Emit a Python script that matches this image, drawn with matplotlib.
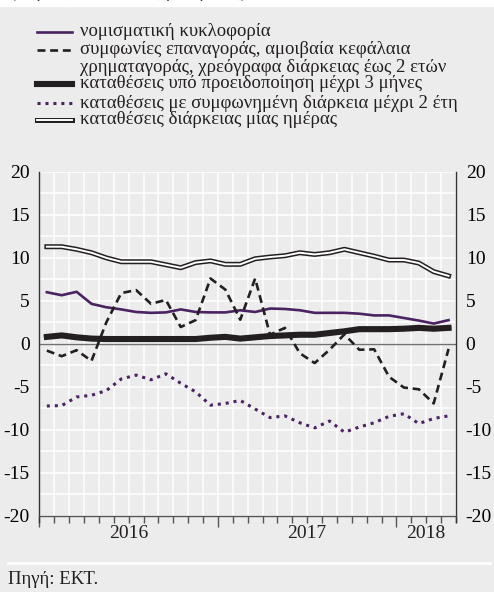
import numpy as np
import matplotlib as mpl
import matplotlib.pyplot as plt
from matplotlib.lines import Line2D

# monthly data, Jan 2016 - Apr 2018 (annual % changes)
months = np.arange(28)
currency = [6.0, 5.65, 6.05, 4.65, 4.25, 4.0, 3.7, 3.6, 3.65, 4.0, 3.7, 3.65, 3.65, 3.9,
            3.7, 4.1, 4.05, 3.9, 3.6, 3.6, 3.6, 3.5, 3.3, 3.3, 3.0, 2.7, 2.35, 2.75]
repos = [-0.8, -1.45, -0.75, -2.0, 2.5, 5.9, 6.25, 4.65, 5.1, 1.95, 2.75, 7.6, 6.3, 2.8,
         7.6, 1.05, 1.85, -1.1, -2.25, -0.7, 1.1, -0.7, -0.65, -3.85, -5.1, -5.3, -6.95, -0.6]
notice = [0.8, 0.97, 0.75, 0.6, 0.55, 0.55, 0.55, 0.55, 0.55, 0.55, 0.55, 0.7, 0.8, 0.6,
          0.75, 0.9, 0.97, 1.05, 1.05, 1.25, 1.45, 1.7, 1.7, 1.7, 1.75, 1.85, 1.75, 1.85]
agreed = [-7.25, -7.2, -6.2, -6.0, -5.45, -4.1, -3.65, -4.2, -3.5, -4.6, -5.6, -7.15, -6.95, -6.6,
          -7.6, -8.6, -8.4, -9.2, -9.8, -9.0, -10.3, -9.7, -9.2, -8.45, -8.15, -9.3, -8.7, -8.4]
overnight = [11.3, 11.3, 11.0, 10.6, 10.0, 9.55, 9.55, 9.55, 9.2, 8.85, 9.45, 9.65, 9.25, 9.25,
             9.9, 10.1, 10.25, 10.6, 10.4, 10.6, 11.0, 10.6, 10.2, 9.75, 9.75, 9.4, 8.4, 7.9]
years = ["2016", "2017", "2018"]
year_pos = [6, 18, 26]
labels = ["νομισματική κυκλοφορία",
          "συμφωνίες επαναγοράς, αμοιβαία κεφάλαια\nχρηματαγοράς, χρεόγραφα διάρκειας έως 2 ετών",
          "καταθέσεις υπό προειδοποίηση μέχρι 3 μήνες",
          "καταθέσεις με συμφωνημένη διάρκεια μέχρι 2 έτη",
          "καταθέσεις διάρκειας μίας ημέρας"]

mpl.rcParams.update({"font.family": ["Liberation Serif", "DejaVu Serif"], "font.size": 14})
BG = "#ececec"
PURPLE = "#4b2262"
INK = "#231f20"

fig = plt.figure(figsize=(4.94, 5.92), dpi=100, facecolor=BG)
fig.patches.append(plt.Rectangle((0, 1 - 6 / 592), 1, 6 / 592, transform=fig.transFigure,
                                 color="white", zorder=0))
# heading cut off at the top edge, as in the source
fig.text(0.02, 1 + 3 / 592, "(ετήσιες ποσοστιαίες μεταβολές)", color=PURPLE,
         fontsize=13, va="baseline")

ax = fig.add_axes([39.4 / 494, 1 - 515.5 / 592, (456 - 39.4) / 494, (515.5 - 172) / 592])
ax.set_facecolor(BG)
x = months + 0.5

ax.plot(x, overnight, color=INK, lw=3.6, solid_joinstyle="round", zorder=3)
ax.plot(x, overnight, color="white", lw=1.4, solid_joinstyle="round", zorder=3)
ax.plot(x, agreed, color=PURPLE, lw=2.2, ls=(0, (1, 1.6)), zorder=3)
ax.plot(x, notice, color=INK, lw=4.4, zorder=3)
ax.plot(x, currency, color=PURPLE, lw=1.9, zorder=3)
ax.plot(x, repos, color=INK, lw=1.9, ls=(0, (3, 1.8)), zorder=3)

ax.axhline(0, color="#707070", lw=1.0, zorder=2)
ax.set_xlim(0, 28)
ax.set_ylim(-20, 20)
ax.set_yticks(np.arange(-20, 21, 5))
ax.set_yticks(np.arange(-20, 21, 2.5), minor=True)
ax.set_yticklabels([str(v) for v in range(-20, 21, 5)])
ax.set_xticks(range(29), minor=True)
ax.set_xticks([0, 12, 24])
ax.set_xticklabels([])
ax.grid(True, which="both", color="white", lw=1.1, zorder=1)
ax.set_axisbelow(True)
ax.tick_params(axis="y", which="both", length=0, labelright=True, pad=7, labelsize=14)
ax.tick_params(axis="x", which="minor", direction="out", length=5, color="#555555", width=1)
ax.tick_params(axis="x", which="major", direction="out", length=8, color="#555555", width=1)
for s in ("left", "right"):
    ax.spines[s].set_color("#333333")
    ax.spines[s].set_linewidth(1.0)
    ax.spines[s].set_bounds(-20.8, 20)
ax.spines["top"].set_visible(False)
ax.spines["bottom"].set_color("#555555")
ax.spines["bottom"].set_linewidth(1.0)
for yr, p in zip(years, year_pos):
    ax.text(p, -22.1, yr, ha="center", va="center", fontsize=14, color=INK)

# legend drawn by hand
lx0, lx1, tx = 37 / 494, 72 / 494, 80 / 494
rows = [32, 50, 84, 103, 120]
styles = [dict(color=PURPLE, lw=1.9), dict(color=INK, lw=1.9, ls=(0, (3, 1.8))),
          dict(color=INK, lw=4.4), dict(color=PURPLE, lw=2.2, ls=(0, (1, 1.6))), None]
for r, st, lab in zip(rows, styles, labels):
    yy = 1 - r / 592
    if st is None:
        fig.add_artist(Line2D([lx0, lx1], [yy, yy], color=INK, lw=3.6, transform=fig.transFigure))
        fig.add_artist(Line2D([lx0, lx1], [yy, yy], color="white", lw=1.4, transform=fig.transFigure))
    else:
        fig.add_artist(Line2D([lx0, lx1], [yy, yy], transform=fig.transFigure, **st))
    for k, part in enumerate(lab.split("\n")):
        fig.text(tx, yy - k * 17 / 592, part, va="center", fontsize=13.5, color=INK)

fig.add_artist(Line2D([8 / 494, 490 / 494], [1 - 563 / 592] * 2, color="white", lw=2,
                      transform=fig.transFigure))
fig.text(8 / 494, 1 - 580 / 592, "Πηγή: ΕΚΤ.", va="center", fontsize=13.5, color=INK)

fig.savefig("out.png", dpi=100, facecolor=BG)
